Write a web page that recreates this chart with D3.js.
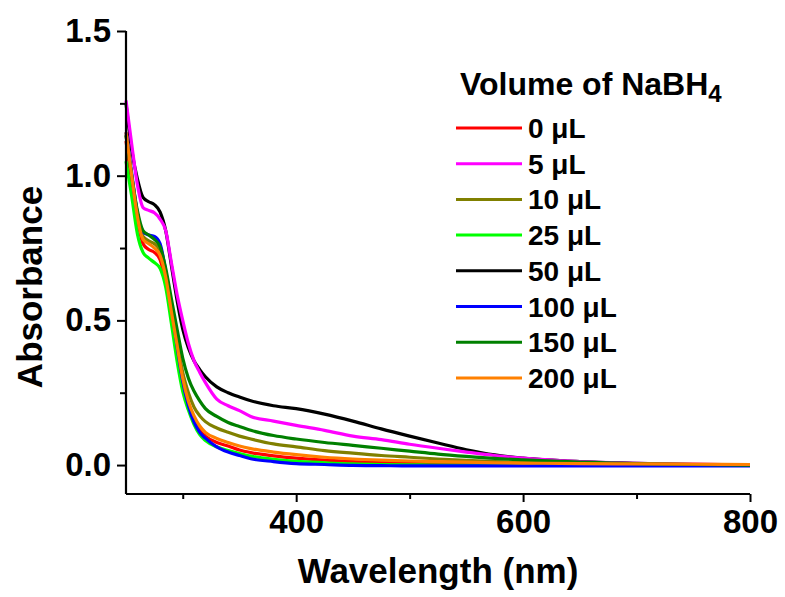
<!DOCTYPE html>
<html>
<head>
<meta charset="utf-8">
<script src="https://cdn.jsdelivr.net/npm/d3@7"></script>
<style>
  body { margin: 0; background: #fff; }
  text { font-family: "Liberation Sans", Arial, sans-serif; font-weight: bold; fill: #000; }
</style>
</head>
<body>
<div id="chart"></div>
<script>
var wavelengths = [250, 255, 260, 265, 270, 275, 280, 285, 290, 295, 300, 305, 310, 315, 320,
  330, 340, 350, 360, 380, 400, 425, 450, 475, 500, 525, 550, 575, 600, 650, 700, 750, 800];

var volumes = ["0 \u03bcL", "5 \u03bcL", "10 \u03bcL", "25 \u03bcL", "50 \u03bcL", "100 \u03bcL", "150 \u03bcL", "200 \u03bcL"];
var colors = ["#ff0000", "#ff00ff", "#808000", "#00ff00", "#000000", "#0000ff", "#008000", "#ff8000"];

var abs0 = [1.12, 0.98, 0.85, 0.765, 0.745, 0.735, 0.71, 0.63, 0.51, 0.385, 0.27, 0.2, 0.155, 0.12, 0.1,
  0.078, 0.066, 0.052, 0.043, 0.032, 0.024, 0.017, 0.012, 0.009, 0.007, 0.006, 0.005, 0.004, 0.003, 0.002, 0.001, 0.0, 0.0];
var abs5 = [1.26, 1.11, 0.97, 0.89, 0.88, 0.872, 0.85, 0.81, 0.70, 0.59, 0.50, 0.42, 0.36, 0.32, 0.285,
  0.228, 0.205, 0.188, 0.168, 0.152, 0.137, 0.12, 0.10, 0.088, 0.072, 0.058, 0.045, 0.033, 0.024, 0.012, 0.006, 0.003, 0.0];
var abs10 = [1.14, 1.0, 0.87, 0.79, 0.775, 0.765, 0.74, 0.665, 0.55, 0.43, 0.32, 0.25, 0.2, 0.17, 0.15,
  0.128, 0.113, 0.1, 0.09, 0.073, 0.063, 0.05, 0.041, 0.033, 0.027, 0.021, 0.016, 0.012, 0.009, 0.005, 0.003, 0.001, 0.0];
var abs25 = [1.05, 0.93, 0.80, 0.735, 0.715, 0.70, 0.68, 0.615, 0.49, 0.36, 0.255, 0.19, 0.14, 0.105, 0.085,
  0.063, 0.05, 0.04, 0.031, 0.02, 0.013, 0.008, 0.004, 0.002, 0.001, 0.0, 0.0, 0.0, 0.0, 0.0, 0.0, 0.0, 0.0];
var abs50 = [1.25, 1.09, 0.99, 0.925, 0.91, 0.90, 0.875, 0.81, 0.69, 0.57, 0.47, 0.405, 0.36, 0.33, 0.305,
  0.27, 0.25, 0.235, 0.222, 0.205, 0.195, 0.176, 0.152, 0.125, 0.10, 0.076, 0.053, 0.035, 0.024, 0.012, 0.006, 0.002, 0.0];
var abs100 = [1.15, 1.01, 0.87, 0.805, 0.795, 0.79, 0.765, 0.67, 0.545, 0.41, 0.29, 0.205, 0.148, 0.113, 0.093,
  0.063, 0.045, 0.033, 0.022, 0.012, 0.005, 0.002, -0.001, -0.002, -0.003, -0.003, -0.003, -0.003, -0.003, -0.003, -0.003, -0.003, -0.003];
var abs150 = [1.14, 1.0, 0.88, 0.81, 0.795, 0.78, 0.755, 0.68, 0.575, 0.47, 0.37, 0.30, 0.255, 0.222, 0.195,
  0.168, 0.147, 0.133, 0.12, 0.102, 0.09, 0.078, 0.068, 0.058, 0.048, 0.038, 0.03, 0.023, 0.018, 0.01, 0.005, 0.002, 0.0];
var abs200 = [1.15, 1.0, 0.86, 0.78, 0.765, 0.75, 0.725, 0.65, 0.53, 0.415, 0.30, 0.22, 0.17, 0.135, 0.113,
  0.092, 0.078, 0.066, 0.057, 0.045, 0.036, 0.027, 0.021, 0.017, 0.014, 0.012, 0.01, 0.008, 0.007, 0.005, 0.004, 0.003, 0.002];

var xMajor = [400, 600, 800];
var xMinor = [300, 500, 700];
var yMajor = [0, 0.5, 1.0, 1.5];
var yMinor = [0.25, 0.75, 1.25];

var series = [abs0, abs5, abs10, abs25, abs50, abs100, abs150, abs200];
// black goes underneath so magenta shows at the start, orange ends on top
var drawOrder = [4, 0, 1, 2, 3, 5, 6, 7];

function drawChart() {
  var width = 785, height = 597;
  var left = 126, right = 750, top = 31, bottom = 494;

  var svg = d3.select("div#chart")
    .append("svg")
    .attr("width", width)
    .attr("height", height);

  var x = d3.scaleLinear().domain([250, 800]).range([left, right]);
  var y = d3.scaleLinear().domain([-0.1, 1.5]).range([bottom, top]);

  var line = d3.line()
    .x(function(d) { return x(d[0]); })
    .y(function(d) { return y(d[1]); })
    .curve(d3.curveMonotoneX);

  // spectra
  drawOrder.forEach(function(i) {
    var vals = series[i];
    var pts = wavelengths.map(function(w, j) { return [w, vals[j]]; });
    svg.append("path")
      .attr("d", line(pts))
      .attr("fill", "none")
      .attr("stroke", colors[i])
      .attr("stroke-width", 3.2)
      .attr("stroke-linejoin", "round");
  });

  // axes
  var xAxis = svg.append("g")
    .attr("transform", "translate(0," + bottom + ")")
    .call(d3.axisBottom(x).tickValues(xMajor).tickSize(8).tickPadding(8).tickFormat(d3.format("d")));
  svg.append("g")
    .attr("transform", "translate(0," + bottom + ")")
    .call(d3.axisBottom(x).tickValues(xMinor).tickSize(5).tickFormat(""))
    .select(".domain").remove();

  var yAxis = svg.append("g")
    .attr("transform", "translate(" + left + ",0)")
    .call(d3.axisLeft(y).tickValues(yMajor).tickSize(9).tickPadding(6).tickFormat(d3.format(".1f")));
  svg.append("g")
    .attr("transform", "translate(" + left + ",0)")
    .call(d3.axisLeft(y).tickValues(yMinor).tickSize(6).tickFormat(""))
    .select(".domain").remove();

  svg.selectAll(".domain").attr("stroke-width", 2.2).attr("stroke", "#000");
  svg.selectAll(".tick line").attr("stroke-width", 2).attr("stroke", "#000");
  svg.selectAll(".tick text")
    .style("font-family", "'Liberation Sans', Arial, sans-serif")
    .style("font-weight", "bold")
    .style("font-size", "33px");
  // d3 adds outer ticks on the domain path; flatten them
  xAxis.select(".domain").attr("d", "M" + left + ",0H" + right);
  yAxis.select(".domain").attr("d", "M0," + bottom + "V" + top);

  // axis titles
  svg.append("text")
    .attr("x", 438)
    .attr("y", 583)
    .attr("text-anchor", "middle")
    .style("font-size", "35px")
    .text("Wavelength (nm)");

  svg.append("text")
    .attr("transform", "translate(42,287) rotate(-90)")
    .attr("text-anchor", "middle")
    .style("font-size", "35px")
    .text("Absorbance");

  // legend
  var title = svg.append("text")
    .attr("x", 460)
    .attr("y", 95)
    .style("font-size", "32px")
    .text("Volume of NaBH");
  title.append("tspan")
    .attr("dy", 7)
    .style("font-size", "24px")
    .text("4");

  var legend = svg.selectAll(".legend")
    .data(volumes)
    .enter()
    .append("g")
    .attr("class", "legend")
    .attr("transform", function(d, i) { return "translate(0," + (128 + i * 35.7) + ")"; });

  legend.append("line")
    .attr("x1", 456)
    .attr("x2", 522)
    .attr("stroke", function(d, i) { return colors[i]; })
    .attr("stroke-width", 3);

  legend.append("text")
    .attr("x", 528)
    .attr("y", 10)
    .style("font-size", "28px")
    .text(function(d) { return d; });
}

drawChart();
</script>
</body>
</html>
